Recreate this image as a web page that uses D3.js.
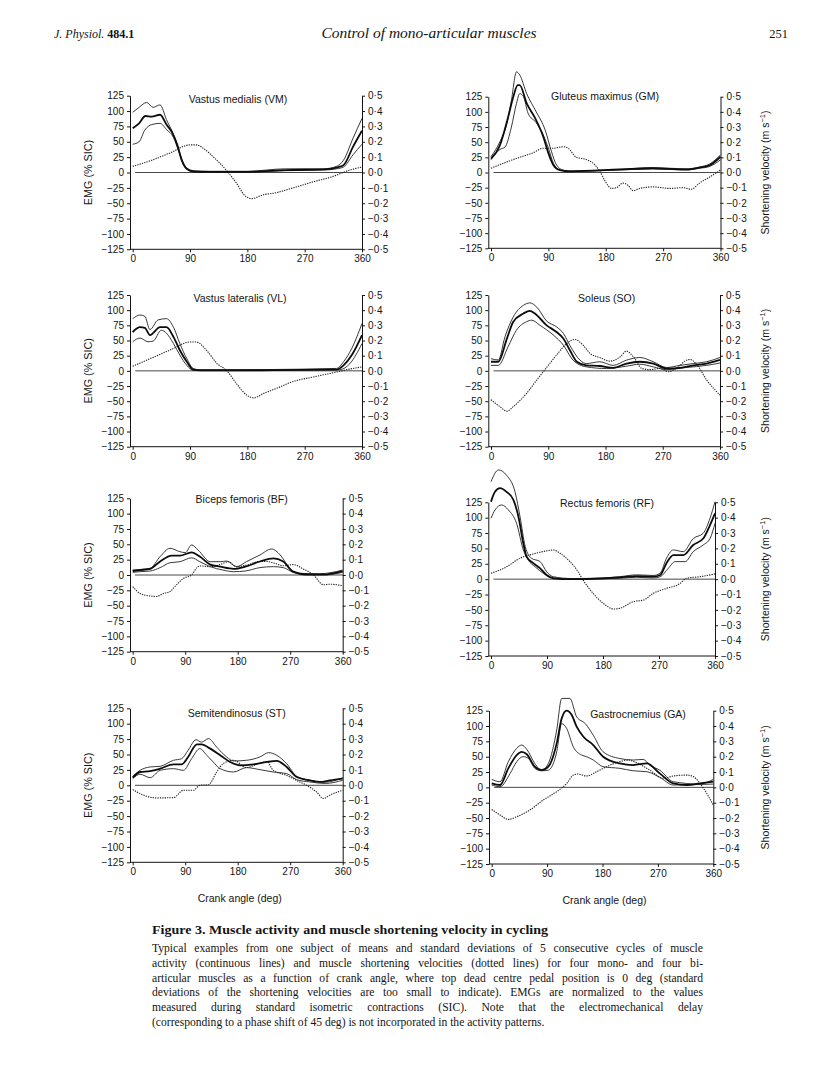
<!DOCTYPE html>
<html><head><meta charset="utf-8">
<script src="https://cdn.jsdelivr.net/npm/d3@7"></script>
<style>body{margin:0;background:#fff} svg{display:block}</style>
</head><body>
<svg id="fig" width="816" height="1091"></svg>
<script>
// ---------------- DATA ----------------
const muscles = ["VM","GM","VL","SO","BF","RF","ST","GA"];
const titles = ["Vastus medialis (VM)","Gluteus maximus (GM)","Vastus lateralis (VL)","Soleus (SO)",
                "Biceps femoris (BF)","Rectus femoris (RF)","Semitendinosus (ST)","Gastrocnemius (GA)"];
const emgTicks = [125,100,75,50,25,0,-25,-50,-75,-100,-125];
const velTicks = [0.5,0.4,0.3,0.2,0.1,0,-0.1,-0.2,-0.3,-0.4,-0.5];
const angleTicks = [0,90,180,270,360];

// [crank angle (deg), EMG (% SIC)] ; velocity in m/s
const VM_upper = [[0,98],[10,106],[22,114],[32,106],[43,110],[53,86],[64,62],[70,45],[77,22],[85,7],[95,2],[180,2],[240,6],[300,6],[320,10],[331,20],[346,56],[360,88]];
const VM_mean  = [[0,72],[10,80],[20,92],[30,91],[43,94],[53,78],[62,65],[70,45],[77,20],[85,6],[95,2],[120,1],[180,1],[240,4],[300,5],[320,8],[331,12],[346,42],[360,68]];
const VM_lower = [[0,46],[10,50],[19,69],[30,78],[43,80],[53,70],[64,57],[72,35],[80,12],[88,3],[95,1],[180,1],[240,3],[300,4],[320,6],[331,9],[346,29],[360,46]];
const VM_vel   = [[0,0.04],[30,0.08],[60,0.13],[90,0.18],[100,0.18],[110,0.16],[127,0.10],[148,0.01],[163,-0.07],[176,-0.15],[187,-0.17],[205,-0.145],[221,-0.135],[252,-0.10],[284,-0.06],[315,-0.025],[340,0.015],[360,0.035]];

const GM_upper = [[0,26],[14,51],[25,81],[32,119],[40,166],[45,161],[56,130],[71,100],[85,70],[95,34],[103,12],[113,4],[130,2],[200,5],[254,8],[306,6],[327,9],[343,14],[360,29]];
const GM_mean  = [[0,23],[14,45],[27,92],[35,125],[42,144],[45,144],[56,114],[69,90],[82,59],[90,32],[98,12],[108,4],[124,2],[202,5],[254,7],[306,5],[327,8],[343,12],[360,26]];
const GM_lower = [[0,21],[14,38],[22,42],[32,75],[40,114],[45,130],[51,125],[58,98],[71,82],[82,62],[90,40],[98,15],[108,4],[124,2],[202,4],[254,6],[306,4],[327,7],[343,10],[360,21]];
const GM_vel   = [[0,0.028],[25,0.07],[45,0.10],[66,0.13],[82,0.16],[98,0.16],[113,0.17],[121,0.16],[134,0.10],[150,0.085],[163,0.05],[171,0.005],[178,-0.05],[189,-0.105],[197,-0.10],[207,-0.07],[215,-0.085],[223,-0.12],[233,-0.105],[254,-0.095],[280,-0.105],[301,-0.10],[314,-0.11],[327,-0.07],[343,-0.03],[360,0.016]];

const VL_upper = [[0,86],[11.5,92],[19,90],[27,68],[40,84],[53,86],[64,72],[74,45],[85,20],[95,4],[110,1],[200,2],[320,4],[331,15],[344,37],[360,78]];
const VL_mean  = [[0,64],[11.5,72],[19,71],[27,59],[43,72],[53,72],[64,56],[74,34],[85,15],[95,2],[106,1],[200,1],[320,2],[331,9],[344,26],[360,59]];
const VL_lower = [[0,48],[11.5,54],[24,48],[32,49],[45,67],[53,62],[64,45],[74,26],[85,9],[95,1],[200,1],[325,2],[341,12],[360,45]];
const VL_vel   = [[0,0.03],[30,0.085],[60,0.14],[90,0.19],[100,0.19],[116,0.135],[132,0.05],[148,0],[163,-0.085],[179,-0.16],[190,-0.178],[205,-0.15],[226,-0.115],[252,-0.07],[284,-0.04],[315,-0.012],[346,0.016],[360,0.026]];

const SO_upper = [[0,20],[11.5,18],[22,56],[35,89],[51,108],[61,112],[72,105],[87.5,82],[103,72.5],[114,61.5],[124,42],[140,17.6],[150,12],[171,15],[192,9],[213,17.6],[234,22],[255,15],[276,5.5],[297,9],[318,12],[339,15],[360,22]];
const SO_mean  = [[0,15],[11.5,15],[25,53],[35,81],[51,94.5],[61,99],[69,94.5],[87.5,75],[103,64],[114,53],[124,34],[135,15],[150,9],[171,8],[192,5],[213,12],[234,15],[255,12],[276,4],[297,5],[318,9],[339,12],[360,18]];
const SO_lower = [[0,9],[11.5,9],[27,40],[40,67],[56,81],[64,83.5],[77,75],[98,59],[114,42],[129,17.6],[150,6.6],[182,3.8],[213,7.7],[234,11],[255,6.6],[276,2],[307,5.5],[339,9],[360,13]];
const SO_vel   = [[0,-0.19],[14,-0.236],[25,-0.266],[35,-0.236],[56,-0.148],[72,-0.06],[87.5,0.022],[103,0.104],[119,0.18],[132,0.207],[145,0.168],[156,0.114],[171,0.088],[187,0.064],[203,0.092],[213,0.13],[224,0.092],[237,0.016],[250,0.008],[266,0.016],[279,-0.006],[297,0.036],[307,0.07],[313,0.075],[323,0.044],[339,-0.06],[360,-0.16]];

const BF_upper = [[0,8],[12.6,9],[30,11],[47,30],[64,43.5],[81,38],[90,36.4],[101,49],[112,40.8],[133,21.7],[150,21.7],[161,22.8],[178,13.6],[195,21.7],[218,32.6],[238,42.4],[253,32.6],[270,9.8],[287,2.7],[320,2],[360,8]];
const BF_mean  = [[0,6.5],[12.6,8],[30,10],[47,22],[67,31.5],[81,31.5],[101,37],[115,30],[133,17],[150,13.6],[173,10],[193,13.6],[218,22],[241,27],[258,22],[275,5.4],[298,1],[327,1],[360,6.5]];
const BF_lower = [[0,4.3],[12.6,5.4],[30,6.5],[47,12],[64,20],[81,21.7],[101,28],[115,21.7],[133,13.6],[155,8],[173,5.4],[193,6.5],[218,12],[241,13.6],[258,12],[275,4.3],[298,0],[327,0],[360,4.3]];
const BF_vel   = [[0,-0.076],[12.6,-0.12],[30,-0.137],[41,-0.14],[53,-0.12],[64,-0.108],[75,-0.064],[87,-0.022],[101,0],[110,0.048],[115,0.059],[133,0.054],[150,0.068],[164,0.087],[178,0.054],[195,0.064],[218,0.088],[230,0.088],[244,0.076],[258,0.06],[275,0.068],[292,0.04],[310,0],[327,-0.064],[338,-0.06],[360,-0.07]];

const RF_upper = [[0,158.6],[12,177.6],[25,169],[38.6,142],[46.6,102],[55,53],[65,34],[79,28.5],[89.5,12],[100,4],[130,1],[180,2],[207,4],[234,7],[261,6],[272,10],[282,34],[293,47.5],[309,44.7],[325,66],[341,74.6],[352,99],[360,126]];
const RF_mean  = [[0,126],[6.4,142],[14.5,148],[25,142],[36,129],[44,102],[52,58],[57,37],[68,26],[79,17.6],[89.5,6.8],[100,1.4],[127,0],[180,1.4],[207,3],[234,5],[261,4],[272,6.8],[282,26],[293,39],[309,39],[325,55.5],[341,66],[352,88],[360,107]];
const RF_lower = [[0,99],[6.4,112.5],[17,120.7],[28,112.5],[41,91],[52,47.5],[60,31],[71,20],[84,9.5],[95,3],[127,0],[180,0.5],[207,1.5],[234,3],[261,2],[272,4],[285,17.6],[295.7,28.5],[312,28.5],[325,44.7],[341,55.5],[352,66],[360,91]];
const RF_vel   = [[0,0.038],[25,0.08],[46.6,0.136],[68,0.164],[89.5,0.184],[100,0.19],[111,0.168],[127,0.114],[138,0.06],[148,-0.006],[164,-0.092],[180,-0.156],[197,-0.194],[207,-0.19],[229,-0.146],[245,-0.136],[261,-0.092],[282,-0.06],[304,-0.028],[314,0.006],[336,0.016],[360,0.034]];

const ST_upper = [[0,14.6],[12.6,24.3],[30,29.8],[47,30.8],[70,40.6],[84,43.3],[95,56.8],[108.6,74],[118,70],[130,75.8],[144,62],[161,46],[173,39.5],[195,40.6],[218,46],[233,53],[247,48.7],[264,35],[281,14.6],[304,8],[330,5],[360,12.4]];
const ST_mean  = [[0,12.4],[12.6,21.6],[30,23],[47,27],[70,34],[84,34],[95,46],[110,66.5],[118,66.5],[133,59.5],[150,48.7],[167,37.9],[184,32.5],[207,34],[230,37.9],[247,39.5],[264,29.8],[281,13.5],[304,8],[321,5.4],[338,8],[360,10.8]];
const ST_lower = [[0,10.8],[12.6,17.9],[30,12.4],[47,24.3],[70,27],[87,24.3],[101,43.3],[115,59.5],[127,48.7],[138,37.9],[150,27],[173,21.6],[195,28.7],[218,25.4],[241,21.6],[264,18.9],[281,9.2],[304,5.4],[330,3],[360,8.1]];
const ST_vel   = [[0,-0.028],[12.6,-0.054],[41,-0.082],[70,-0.08],[87,-0.032],[104,-0.032],[115,0],[130,0.004],[144,0.086],[155,0.14],[173,0.162],[195,0.115],[218,0.144],[230,0.152],[241,0.097],[264,0.064],[281,0.032],[298,0],[315,-0.043],[327,-0.086],[338,-0.064],[360,-0.032]];

const GA_upper = [[0,13],[13.5,9.2],[27,41.8],[40.6,63.6],[48.7,69],[57,62],[70,39],[81,28],[92,39],[105.6,93.5],[113.7,145],[127,145],[138,115],[152,104],[165,85],[181,58],[208,47],[230,44.6],[246,45.6],[257,36],[273,28],[295,9.2],[338,5.4],[360,13]];
const GA_mean  = [[0,6.5],[13.5,3.8],[27,31],[40.6,52.7],[48.7,58],[57,54],[70,33.7],[81,28],[92,33.7],[105.6,71.7],[113.7,112.5],[121.8,125],[130,118],[138,99],[149,82.6],[165,69],[181,50],[208,39],[230,36.4],[252,39],[273,22.8],[295,6.5],[317,3.8],[338,6.5],[360,9.2]];
const GA_lower = [[0,3.8],[13.5,1],[30,22.8],[40.6,41.8],[51,50],[59.6,47.3],[70,31],[81,27],[92,28],[105.6,58],[113.7,104],[121.8,96],[132.6,66],[146,52.7],[154,50],[165,44.6],[181,33.7],[208,31],[230,27],[252,25.5],[273,16.3],[295,3.8],[360,5.4]];
const GA_vel   = [[0,-0.144],[13.5,-0.18],[27,-0.209],[40.6,-0.192],[62,-0.148],[84,-0.082],[105.6,-0.028],[122,0.026],[132.6,0.08],[140,0.087],[154,0.074],[170.5,0.102],[187,0.135],[208,0.168],[222,0.178],[235.5,0.16],[257,0.112],[279,0.059],[295,0.074],[317,0.08],[327.5,0.07],[344,-0.006],[360,-0.115]];

const series = {
  VM:[VM_upper,VM_mean,VM_lower,VM_vel], GM:[GM_upper,GM_mean,GM_lower,GM_vel],
  VL:[VL_upper,VL_mean,VL_lower,VL_vel], SO:[SO_upper,SO_mean,SO_lower,SO_vel],
  BF:[BF_upper,BF_mean,BF_lower,BF_vel], RF:[RF_upper,RF_mean,RF_lower,RF_vel],
  ST:[ST_upper,ST_mean,ST_lower,ST_vel], GA:[GA_upper,GA_mean,GA_lower,GA_vel]
};

const captionTitle = "Figure 3. Muscle activity and muscle shortening velocity in cycling";
const captionLines = [
 "Typical examples from one subject of means and standard deviations of 5 consecutive cycles of muscle",
 "activity (continuous lines) and muscle shortening velocities (dotted lines) for four mono- and four bi-",
 "articular muscles as a function of crank angle, where top dead centre pedal position is 0 deg (standard",
 "deviations of the shortening velocities are too small to indicate). EMGs are normalized to the values",
 "measured during standard isometric contractions (SIC). Note that the electromechanical delay",
 "(corresponding to a phase shift of 45 deg) is not incorporated in the activity patterns."
];

// ---------------- LAYOUT ----------------
const layout = [
 {x0:132.7,x1:362,yT:95.7,yB:249.3,tx:238,ty:103,left:true},
 {x0:491,x1:720.5,yT:96.7,yB:248.3,tx:605,ty:99.5,left:false},
 {x0:132.7,x1:362,yT:295,yB:446.7,tx:240,ty:301.7,left:true},
 {x0:491,x1:720,yT:295,yB:446.7,tx:606.7,ty:301.7,left:false},
 {x0:132.7,x1:342.7,yT:498.3,yB:651.7,tx:241.7,ty:503,left:true},
 {x0:491,x1:715,yT:502.3,yB:656,tx:607,ty:507,left:false},
 {x0:132.7,x1:342.7,yT:708.3,yB:862.3,tx:236.7,ty:717,left:true,xlab:true},
 {x0:491.7,x1:713.3,yT:710.7,yB:864,tx:638,ty:717.7,left:false,xlab:true}
];

const sans = "'Liberation Sans', Arial, Helvetica, sans-serif";
const serif = "'Liberation Serif', 'Times New Roman', serif";
const ink = "#141414";
const svg = d3.select("#fig");
svg.append("rect").attr("width",816).attr("height",1091).attr("fill","#fff");

const fmtE = d => d < 0 ? "\u2212" + (-d) : String(d);
const fmtV = d => (d < 0 ? "\u2212" : "") + Math.abs(d).toFixed(1).replace(".", "\u00B7");

muscles.forEach((m, i) => {
  const p = layout[i];
  const [up, mean, lo, vel] = series[m];
  const x = d3.scaleLinear().domain([0,360]).range([p.x0, p.x1]);
  const yE = d3.scaleLinear().domain([-125,125]).range([p.yB, p.yT]);
  const yV = d3.scaleLinear().domain([-0.5,0.5]).range([p.yB, p.yT]);
  const axL = p.x0 - 2.7, axR = p.x1;
  const g = svg.append("g");

  const gl = g.append("g").attr("transform", `translate(${axL},0)`)
    .call(d3.axisLeft(yE).tickValues(emgTicks).tickSize(3).tickSizeOuter(0).tickPadding(3).tickFormat(fmtE));
  const gr = g.append("g").attr("transform", `translate(${axR},0)`)
    .call(d3.axisRight(yV).tickValues(velTicks).tickSize(3).tickSizeOuter(0).tickPadding(3).tickFormat(fmtV));
  const gb = g.append("g").attr("transform", `translate(0,${p.yB})`)
    .call(d3.axisBottom(x).tickValues(angleTicks).tickSize(3).tickSizeOuter(0).tickPadding(3));
  gb.select(".domain").attr("d", `M${axL},0H${axR}`);
  [gl, gr, gb].forEach(a => {
    a.selectAll("path,line").attr("stroke", ink).attr("stroke-width", 1);
    a.selectAll("text").attr("font-family", sans).attr("font-size", 10).attr("fill", ink);
  });

  g.append("line").attr("x1", x(4)).attr("x2", x(360)).attr("y1", yE(0)).attr("y2", yE(0))
    .attr("stroke", "#333").attr("stroke-width", 0.9);

  const lineE = d3.line().x(d => x(d[0])).y(d => yE(d[1])).curve(d3.curveMonotoneX);
  const lineV = d3.line().x(d => x(d[0])).y(d => yV(d[1])).curve(d3.curveMonotoneX);

  g.append("path").attr("d", lineV(vel)).attr("fill","none").attr("stroke","#222")
    .attr("stroke-width",1.1).attr("stroke-dasharray","1.3,1.1");
  [up, lo].forEach(s => g.append("path").attr("d", lineE(s)).attr("fill","none")
    .attr("stroke","#222").attr("stroke-width",0.9));
  g.append("path").attr("d", lineE(mean)).attr("fill","none").attr("stroke","#0c0c0c").attr("stroke-width",1.8);

  g.append("text").attr("x", p.tx).attr("y", p.ty).attr("text-anchor","middle")
    .attr("font-family", sans).attr("font-size", 10.5).attr("fill", ink).text(titles[i]);

  const yMid = (p.yT + p.yB) / 2;
  if (p.left) {
    g.append("text").attr("transform", `translate(92,${yMid}) rotate(-90)`).attr("text-anchor","middle")
      .attr("font-family", sans).attr("font-size", 10.8).attr("fill", ink).text("EMG (% SIC)");
  } else {
    const t = g.append("text").attr("transform", `translate(769,${yMid}) rotate(-90)`).attr("text-anchor","middle")
      .attr("font-family", sans).attr("font-size", 10.5).attr("fill", ink);
    t.append("tspan").text("Shortening velocity (m s");
    t.append("tspan").attr("dy", -4).attr("font-size", 7.5).text("\u22121");
    t.append("tspan").attr("dy", 4).text(")");
  }
  if (p.xlab) {
    g.append("text").attr("x", (p.x0 + p.x1) / 2 + 2).attr("y", p.yB + 39.5).attr("text-anchor","middle")
      .attr("font-family", sans).attr("font-size", 10.5).attr("fill", ink).text("Crank angle (deg)");
  }
});

// header
const hdr = svg.append("text").attr("x", 54).attr("y", 38).attr("font-family", serif).attr("font-size", 12).attr("fill", ink);
hdr.append("tspan").attr("font-style","italic").text("J. Physiol. ");
hdr.append("tspan").attr("font-weight","bold").text("484.1");
svg.append("text").attr("x", 429).attr("y", 38).attr("text-anchor","middle").attr("font-family", serif)
  .attr("font-style","italic").attr("font-size", 15.5).attr("fill", ink).text("Control of mono-articular muscles");
svg.append("text").attr("x", 788).attr("y", 38).attr("text-anchor","end").attr("font-family", serif)
  .attr("font-size", 12.5).attr("fill", ink).text("251");

// caption (justified by word spacing)
const capX = 152, capW = 551, capSize = 11.6;
svg.append("text").attr("x", capX).attr("y", 934).attr("font-family", serif).attr("font-weight","bold")
  .attr("font-size", 12).attr("fill", ink).attr("textLength", 396).attr("lengthAdjust","spacingAndGlyphs").text(captionTitle);
captionLines.forEach((ln, k) => {
  const t = svg.append("text").attr("x", capX).attr("y", 952 + k * 14.8).attr("font-family", serif)
    .attr("font-size", capSize).attr("fill", ink).text(ln);
  if (k < captionLines.length - 1) {
    const nat = t.node().getComputedTextLength();
    const spaces = (ln.match(/ /g) || []).length;
    if (nat < capW && spaces > 0) t.attr("word-spacing", (capW - nat) / spaces);
    else if (nat > capW) t.attr("textLength", capW).attr("lengthAdjust", "spacingAndGlyphs");
  }
});
</script>
</body></html>
